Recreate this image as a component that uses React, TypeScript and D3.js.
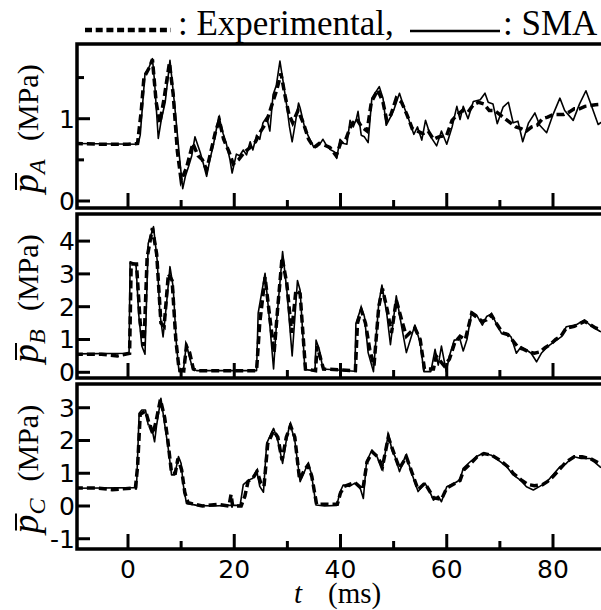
import React from "react";
import * as d3 from "d3";

type P = [number, number];

const xTicksMajor = [0, 20, 40, 60, 80];
const xTicksMinor = [10, 30, 50, 70];
const yTicksA = [0, 1];
const yMinorA = [0.5, 1.5];
const yTicksB = [0, 1, 2, 3, 4];
const yTicksC = [-1, 0, 1, 2, 3];

const smaA: P[] = [[-10,0.7],[1.9,0.69],[2.3,0.8],[3.2,1.55],[3.8,1.6],[4.6,1.73],[5.0,1.45],[5.7,0.76],[6.3,1.0],[7.0,1.2],[7.9,1.71],[8.8,1.15],[9.8,0.46],[10.3,0.15],[10.8,0.3],[11.4,0.42],[12.0,0.55],[12.6,0.78],[13.6,0.59],[14.2,0.45],[14.8,0.3],[15.4,0.5],[16.1,0.69],[17.1,1.03],[17.9,0.82],[18.5,0.7],[19.2,0.5],[19.6,0.34],[20.4,0.57],[21.0,0.55],[21.7,0.62],[22.3,0.56],[23.0,0.72],[23.5,0.62],[24.2,0.8],[24.8,0.75],[25.4,0.95],[26.1,1.02],[26.7,0.85],[27.3,1.29],[27.9,1.4],[28.6,1.70],[29.2,1.45],[29.9,1.15],[30.4,0.9],[30.9,0.72],[31.5,0.95],[32.1,1.19],[32.4,1.13],[33.3,0.88],[34.3,0.74],[35.0,0.65],[35.6,0.66],[36.2,0.7],[36.7,0.75],[37.5,0.66],[38.2,0.62],[38.8,0.6],[39.3,0.52],[39.9,0.75],[40.6,0.7],[41.2,0.69],[41.8,0.98],[42.4,0.9],[43.0,1.0],[43.3,1.09],[43.9,0.8],[44.5,0.78],[45.2,0.71],[45.9,1.25],[46.5,1.31],[47.3,1.39],[48.0,1.25],[48.6,0.92],[49.4,1.02],[50.0,1.1],[51.1,1.31],[51.8,1.17],[52.8,1.0],[53.8,0.81],[54.5,0.9],[55.3,0.74],[56.0,0.98],[57.0,0.78],[58.1,0.67],[59.0,0.85],[60.0,0.69],[61.0,0.9],[61.9,1.15],[62.5,0.99],[63.1,1.15],[64.0,1.0],[65.0,1.21],[66.3,1.23],[67.2,1.31],[67.8,1.2],[68.7,1.18],[69.5,0.94],[70.6,1.14],[71.6,1.20],[72.5,0.95],[73.4,0.97],[74.3,0.72],[75.4,0.95],[76.6,1.07],[77.5,0.92],[78.8,0.83],[80.0,1.05],[81.3,1.25],[82.2,1.1],[83.8,0.98],[85.0,1.18],[86.2,1.34],[87.0,1.2],[88.5,0.93],[90,1.0]];

const expA: P[] = [[-10,0.7],[-5,0.69],[0,0.69],[1.8,0.7],[2.5,1.1],[3.0,1.5],[4.0,1.62],[4.6,1.72],[5.3,1.2],[6.0,0.95],[6.8,1.25],[7.8,1.68],[8.5,1.3],[9.3,0.6],[10.0,0.25],[11.0,0.4],[12.2,0.7],[13.2,0.55],[14.0,0.5],[14.8,0.38],[15.6,0.6],[16.5,0.85],[17.2,0.98],[18.0,0.75],[19.0,0.6],[19.8,0.45],[20.8,0.5],[22.0,0.6],[23.0,0.65],[24.0,0.72],[25.0,0.85],[26.0,0.95],[27.0,1.15],[28.0,1.35],[28.8,1.55],[29.5,1.3],[30.3,1.05],[31.0,0.95],[32.0,1.1],[33.0,0.95],[34.0,0.75],[35.0,0.65],[36.0,0.7],[37.0,0.68],[38.0,0.65],[39.2,0.55],[40.0,0.7],[41.0,0.75],[42.0,0.92],[43.0,1.0],[44.0,0.9],[45.0,0.85],[45.8,1.2],[47.0,1.35],[48.0,1.2],[48.7,0.98],[49.5,1.05],[50.5,1.25],[51.5,1.2],[52.5,1.05],[53.5,0.88],[54.5,0.85],[55.5,0.82],[56.5,0.85],[57.5,0.75],[58.5,0.78],[60.0,0.8],[61.0,0.98],[62.0,1.05],[63.0,1.1],[64.0,1.08],[65.0,1.17],[66.0,1.2],[67.0,1.18],[68.0,1.1],[69.0,1.1],[70.0,1.05],[71.0,1.0],[72.0,0.95],[73.0,0.9],[74.0,0.88],[75.0,0.85],[76.0,0.9],[77.0,0.92],[78.0,1.0],[79.0,1.02],[80.0,1.05],[81.0,1.05],[82.0,1.05],[83.0,1.08],[84.0,1.12],[85.0,1.12],[86.0,1.15],[87.0,1.16],[88.0,1.17],[90,1.18]];

const smaB: P[] = [[-10,0.56],[0.2,0.58],[0.4,3.37],[1.5,3.3],[2.0,1.8],[2.6,0.8],[3.2,0.55],[3.8,3.93],[4.8,4.44],[5.5,3.4],[6.0,1.8],[6.6,1.08],[7.2,2.0],[7.9,3.22],[8.5,2.6],[9.1,0.88],[9.6,0.02],[10.4,0.02],[11.0,0.88],[11.5,0.5],[12.2,0.1],[13,0.05],[24.2,0.05],[24.5,1.8],[25.8,3.02],[26.4,2.0],[27.4,0.1],[28.0,1.6],[29.1,3.68],[29.9,2.5],[30.9,0.5],[31.9,2.8],[32.4,2.5],[33.3,0.08],[35.2,0.05],[35.4,0.98],[36.0,0.7],[36.7,0.1],[42.7,0.03],[42.9,1.49],[43.9,1.98],[44.5,1.7],[45.2,0.6],[46.2,0.02],[47.2,2.1],[47.8,2.66],[48.7,1.8],[49.4,0.84],[50.5,2.33],[51.5,1.4],[52.4,0.6],[54.0,1.44],[55.0,0.9],[55.7,0.02],[57.0,0.02],[57.8,0.7],[58.4,0.22],[59.0,0.8],[59.9,0.02],[60.5,0.5],[61.4,0.98],[62.5,1.0],[63.1,0.65],[63.8,1.0],[64.7,1.85],[65.6,1.75],[66.7,1.44],[67.5,1.7],[68.4,1.78],[69.3,1.5],[70.3,1.19],[71.2,1.19],[72.1,1.08],[73.1,0.58],[74.0,0.78],[75.0,0.68],[75.9,0.58],[76.9,0.32],[77.8,0.58],[79.1,0.8],[80.4,0.95],[81.6,1.09],[82.5,1.39],[84.4,1.45],[85.9,1.6],[86.9,1.45],[88.8,1.25],[90,1.2]];

const expB: P[] = [[-10,0.55],[-5,0.55],[-2,0.5],[0.3,0.58],[0.6,3.3],[1.6,3.3],[2.3,1.5],[3.0,0.8],[3.6,3.5],[4.6,4.4],[5.4,3.6],[6.2,1.5],[6.8,1.4],[7.6,3.0],[8.3,2.8],[9.0,1.0],[9.6,0.1],[10.5,0.05],[11.0,0.8],[11.6,0.6],[12.3,0.1],[13,0.05],[24.2,0.05],[24.8,1.5],[25.8,2.9],[26.6,1.8],[27.5,0.6],[28.2,2.0],[29.0,3.5],[29.9,2.7],[30.8,1.2],[31.6,2.5],[32.4,2.4],[33.4,0.1],[35.3,0.05],[35.6,0.8],[36.8,0.1],[42.8,0.05],[43.2,1.5],[43.9,1.9],[44.7,1.5],[45.5,0.7],[46.3,0.2],[47.2,2.0],[47.9,2.55],[48.8,1.9],[49.6,1.2],[50.5,2.2],[51.5,1.6],[52.4,1.1],[54.0,1.35],[55.0,1.0],[55.8,0.1],[57.5,0.1],[58.0,0.5],[59.5,0.2],[60.5,0.4],[61.5,0.9],[62.5,1.1],[63.5,1.0],[64.7,1.8],[65.5,1.7],[66.7,1.55],[67.5,1.6],[68.4,1.75],[69.5,1.45],[70.5,1.2],[71.5,1.15],[72.5,0.95],[73.5,0.75],[74.5,0.7],[75.5,0.62],[76.5,0.58],[77.5,0.62],[78.5,0.75],[79.5,0.85],[80.5,1.0],[81.5,1.1],[82.5,1.35],[84.0,1.4],[85.0,1.48],[86.0,1.55],[87.0,1.45],[88.0,1.35],[90,1.25]];

const smaC: P[] = [[-10,0.54],[1.6,0.56],[2.1,2.83],[2.6,2.93],[3.3,2.93],[3.8,2.48],[4.4,2.45],[5.0,1.96],[5.4,2.48],[6.2,3.29],[6.9,2.5],[7.6,1.73],[8.2,0.95],[8.8,0.95],[9.5,1.51],[10.0,1.3],[10.4,0.65],[11.0,0.08],[13,0.02],[16,0.0],[19,0.02],[21.1,0.02],[21.7,0.65],[22.7,0.79],[23.5,0.85],[24.2,1.1],[24.8,0.6],[25.5,0.42],[26.1,1.91],[27.4,2.37],[28.2,2.0],[29.1,1.3],[29.8,2.0],[30.5,2.52],[31.4,2.0],[32.4,0.74],[33.0,0.97],[33.9,1.3],[34.5,1.0],[35.4,0.03],[37,0.0],[39.3,0.02],[39.9,0.42],[40.5,0.64],[41.7,0.6],[42.7,0.7],[43.6,0.6],[44.3,0.23],[44.9,1.35],[45.9,1.71],[46.9,1.5],[47.8,1.1],[48.4,1.6],[49.0,2.22],[49.7,1.7],[50.3,1.5],[51.1,1.05],[52.3,1.56],[53.4,1.0],[54.6,0.44],[55.9,0.7],[56.8,0.44],[57.5,0.18],[58.4,0.3],[59.0,0.13],[60.0,0.59],[61.3,0.68],[62.5,0.8],[63.1,1.15],[64.4,1.35],[65.6,1.51],[66.9,1.61],[68.4,1.55],[70.0,1.36],[71.2,1.22],[72.5,0.95],[73.8,0.8],[75.0,0.59],[76.3,0.49],[77.5,0.6],[78.8,0.73],[80.0,0.95],[81.3,1.2],[82.5,1.3],[83.8,1.51],[85.3,1.45],[87.0,1.45],[88.8,1.2],[90,1.1]];

const expC: P[] = [[-10,0.55],[-6,0.55],[-3,0.5],[1.4,0.55],[1.8,1.2],[2.3,2.8],[3.3,2.9],[4.0,2.5],[4.7,2.2],[5.3,2.6],[6.1,3.25],[6.9,2.7],[7.5,2.0],[8.2,1.0],[8.9,1.0],[9.4,1.45],[10.1,1.1],[10.7,0.4],[11.3,0.1],[14,0.0],[17,0.05],[19.0,0.0],[19.4,0.35],[19.7,0.0],[21.3,0.0],[22,0.3],[22.6,0.75],[23.7,0.9],[24.3,1.05],[25,0.7],[25.6,0.6],[26.3,1.9],[27.4,2.3],[28.2,2.1],[29.0,1.4],[29.8,2.1],[30.6,2.45],[31.4,2.1],[32.3,0.8],[33.2,1.1],[33.9,1.25],[34.6,0.9],[35.5,0.05],[39.4,0.05],[40,0.4],[40.7,0.6],[42.7,0.72],[44.2,0.5],[45.0,1.35],[46,1.65],[47,1.5],[47.9,1.2],[49,2.1],[50.3,1.5],[51.1,1.15],[52.4,1.5],[53.5,1.0],[54.6,0.5],[55.9,0.7],[57.5,0.25],[59.0,0.2],[60.0,0.55],[62.5,0.78],[63.2,1.1],[64.5,1.3],[65.7,1.5],[67,1.6],[68.5,1.55],[70,1.4],[71.5,1.2],[72.5,1.0],[74,0.8],[75.2,0.66],[76.5,0.62],[78,0.65],[79,0.75],[80,0.9],[81.4,1.15],[82.5,1.35],[84,1.5],[85.5,1.5],[87,1.45],[88.8,1.3],[90,1.2]];

const W = 601, H = 610;
const left = 77;
const x = d3.scaleLinear().domain([-9.6, 90]).range([left, left + 99.6 * 5.3125]);

const panels = [
  { id: "A", top: 44, bottom: 208, domain: [-0.085, 1.908], ticks: yTicksA, minor: yMinorA, sma: smaA, exp: expA },
  { id: "B", top: 214, bottom: 378, domain: [-0.174, 4.826], ticks: yTicksB, minor: [] as number[], sma: smaB, exp: expB },
  { id: "C", top: 384, bottom: 549, domain: [-1.313, 3.725], ticks: yTicksC, minor: [] as number[], sma: smaC, exp: expC },
];

const sans = (size: number): React.CSSProperties => ({ fontFamily: "DejaVu Sans", fontSize: size });
const serif = (size: number, italic = false): React.CSSProperties => ({
  fontFamily: "Liberation Serif",
  fontSize: size,
  fontStyle: italic ? "italic" : "normal",
});

export default function App() {
  return (
    <svg width={W} height={H} style={{ position: "absolute", left: 0, top: 0, background: "#fff" }}>
      <defs>
        {panels.map((p) => (
          <clipPath id={"clip" + p.id} key={p.id}>
            <rect x={left} y={p.top} width={W - left} height={p.bottom - p.top} />
          </clipPath>
        ))}
      </defs>
      {/* legend */}
      <line x1={85} x2={171} y1={30} y2={30} stroke="#000" strokeWidth={4.5} strokeDasharray="7,3.7" />
      <text x={178} y={35} style={serif(35)}>: Experimental,</text>
      <line x1={410} x2={500} y1={31} y2={31} stroke="#000" strokeWidth={2.5} />
      <text x={503} y={35} style={serif(35)}>: SMA</text>
      {panels.map((p) => {
        const y = d3.scaleLinear().domain(p.domain).range([p.bottom, p.top]);
        const line = d3.line<P>().x((d) => x(d[0])).y((d) => y(d[1]));
        const cy = (p.top + p.bottom) / 2;
        return (
          <g key={p.id}>
            <g clipPath={`url(#clip${p.id})`}>
              <path d={line(p.exp) || ""} fill="none" stroke="#000" strokeWidth={3.5} strokeDasharray="8,4" />
              <path d={line(p.sma) || ""} fill="none" stroke="#000" strokeWidth={1.6} strokeLinejoin="round" />
            </g>
            <rect x={left} y={p.top} width={W} height={p.bottom - p.top} fill="none" stroke="#000" strokeWidth={3.5} />
            {p.ticks.map((t) => (
              <g key={"y" + t}>
                <line x1={left} x2={left + 13} y1={y(t)} y2={y(t)} stroke="#000" strokeWidth={3} />
                <text x={left - 2} y={y(t)} dy="0.36em" textAnchor="end" style={sans(25)}>
                  {t < 0 ? "-" + Math.abs(t) : String(t)}
                </text>
              </g>
            ))}
            {p.minor.map((t) => (
              <line key={"ym" + t} x1={left} x2={left + 7} y1={y(t)} y2={y(t)} stroke="#000" strokeWidth={3} />
            ))}
            {xTicksMajor.map((t) => (
              <line key={"xM" + t} x1={x(t)} x2={x(t)} y1={p.bottom} y2={p.bottom - 15} stroke="#000" strokeWidth={3} />
            ))}
            {xTicksMinor.map((t) => (
              <line key={"xm" + t} x1={x(t)} x2={x(t)} y1={p.bottom} y2={p.bottom - 8} stroke="#000" strokeWidth={3} />
            ))}
            <g transform={`translate(38,${cy}) rotate(-90)`}>
              <text x={-67} y={0} style={serif(38, true)}>p</text>
              <line x1={-64} x2={-47} y1={-22} y2={-22} stroke="#000" strokeWidth={2} />
              <text x={-48} y={7} style={serif(24, true)}>{p.id}</text>
              <text x={-15} y={0} style={serif(30)}>(MPa)</text>
            </g>
          </g>
        );
      })}
      {xTicksMajor.map((t) => (
        <text key={"xl" + t} x={x(t)} y={578} textAnchor="middle" style={sans(25)}>{t}</text>
      ))}
      <text x={294} y={603} style={serif(29, true)}>t</text>
      <text x={328} y={603} style={serif(29)}>(ms)</text>
    </svg>
  );
}
